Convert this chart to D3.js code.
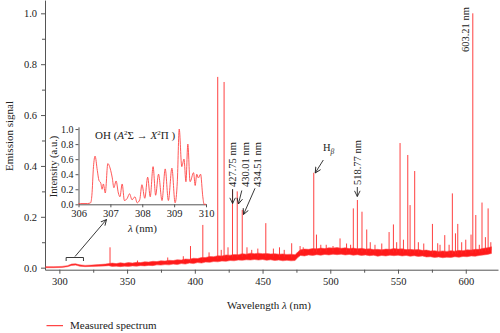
<!DOCTYPE html>
<html><head><meta charset="utf-8">
<script src="https://cdn.jsdelivr.net/npm/d3@7"></script>
<style>
body{margin:0;background:#fff}
svg{display:block}
text{font-family:"Liberation Serif","DejaVu Serif",serif;fill:#222}
</style></head><body>
<svg id="c" width="500" height="333"></svg>
<script>
// ---------- DATA ----------
const xTicks = [300, 350, 400, 450, 500, 550, 600];
const yTicks = [0.0, 0.2, 0.4, 0.6, 0.8, 1.0];
// noisy continuum band: wavelength, lower edge, upper edge
const baseWl = [290,296,302,306,309,312,315,319,324,329,334,336.5,339,342,345,348,351,354,357,360,363,366,369,372,375,378,381,384,387,390,393,396,399,402,405,408,411,414,417,420,423,426,429,432,435,438,441,444,447,450,453,456,459,462,465,468,471,474,476,478,481,484,487,490,493,496,499,502,505,508,511,514,517,520,523,526,529,532,535,538,541,544,547,550,553,556,559,562,565,568,571,574,577,580,583,586,589,592,595,598,601,604,607,610,613,616,619];
const baseLo = [.000,.000,.001,.004,.009,.010,.006,.004,.005,.006,.007,.008,.005,.006,.004,.006,.005,.007,.006,.008,.007,.009,.008,.011,.010,.012,.011,.014,.012,.016,.014,.018,.016,.020,.018,.022,.021,.024,.023,.026,.025,.028,.027,.030,.029,.031,.030,.032,.030,.032,.029,.031,.028,.030,.027,.029,.027,.028,.040,.048,.046,.050,.048,.051,.049,.052,.050,.053,.051,.053,.050,.052,.049,.051,.048,.050,.047,.049,.045,.048,.046,.049,.047,.049,.046,.048,.045,.047,.044,.046,.042,.043,.040,.042,.039,.041,.040,.043,.041,.044,.043,.046,.045,.048,.050,.052,.056];
const baseHi = [.004,.004,.005,.008,.014,.015,.011,.009,.010,.012,.014,.016,.018,.016,.019,.017,.020,.018,.021,.020,.023,.022,.025,.024,.027,.026,.029,.028,.031,.030,.034,.033,.037,.036,.040,.040,.044,.043,.047,.046,.050,.049,.052,.051,.055,.053,.057,.055,.057,.055,.056,.054,.055,.053,.054,.052,.053,.051,.062,.070,.073,.072,.075,.074,.077,.075,.078,.077,.079,.076,.078,.075,.077,.074,.076,.073,.074,.071,.072,.070,.073,.072,.075,.073,.074,.071,.072,.070,.071,.068,.069,.066,.067,.064,.066,.064,.067,.065,.068,.067,.070,.069,.072,.072,.076,.078,.082];
// emission lines: wavelength, peak value, foot value
const peakWl  = [337.4,357.7,380,391.5,396.8,405.9,410.5,416.9,419.5,421.6,424.5,427.8,431.3,435.0,438.5,442,446.5,452.4,458,462.5,466,471.5,477.7,480,487.8,489.8,493,497,502,507.2,512,515,517.0,520.0,523.4,526.9,529.5,533,538,543.4,546.6,549,551.5,554,557.2,558.9,562.3,565,569,575.4,579.3,581,584.5,587.7,590.1,592.4,594.1,597,600,603.9,605.2,607.4,610,612,614.5,616.5,618.5];
const peakTop = [0.080,0.028,0.040,0.045,0.085,0.168,0.060,0.750,0.070,0.730,0.080,0.305,0.300,0.227,0.080,0.070,0.075,0.175,0.075,0.080,0.070,0.096,0.085,0.080,0.373,0.130,0.090,0.090,0.085,0.115,0.095,0.090,0.233,0.266,0.220,0.150,0.100,0.090,0.095,0.140,0.170,0.100,0.490,0.110,0.443,0.246,0.380,0.100,0.095,0.172,0.096,0.090,0.128,0.090,0.292,0.135,0.172,0.100,0.110,0.130,1.000,0.207,0.090,0.256,0.120,0.233,0.100];
const peakFoot= [0.012,0.014,0.018,0.022,0.025,0.030,0.032,0.035,0.036,0.037,0.038,0.040,0.041,0.042,0.043,0.044,0.044,0.043,0.043,0.042,0.041,0.040,0.060,0.060,0.062,0.062,0.063,0.064,0.065,0.065,0.064,0.063,0.063,0.063,0.062,0.061,0.061,0.060,0.059,0.060,0.061,0.061,0.060,0.060,0.060,0.059,0.059,0.058,0.057,0.054,0.053,0.053,0.052,0.053,0.053,0.054,0.054,0.055,0.056,0.057,0.057,0.058,0.060,0.062,0.064,0.065,0.068];
// inset: OH band
const insetWl = [306.00,306.07,306.28,306.38,306.42,306.47,306.52,306.59,306.64,306.70,306.74,306.78,306.84,306.92,307.01,307.06,307.11,307.18,307.25,307.30,307.37,307.44,307.53,307.60,307.68,307.77,307.84,307.92,307.99,308.08,308.17,308.25,308.34,308.42,308.51,308.62,308.72,308.82,308.93,309.03,309.10,309.16,309.24,309.31,309.37,309.43,309.50,309.61,309.66,309.71,309.76,309.83,309.90,309.94,310.00];
const insetI  = [0.01,0.01,0.01,0.02,0.12,0.50,0.64,0.45,0.32,0.28,0.20,0.27,0.15,0.54,0.45,0.35,0.22,0.31,0.15,0.10,0.27,0.05,0.08,0.14,0.06,0.10,0.02,0.06,0.26,0.08,0.36,0.10,0.50,0.12,0.40,0.05,0.47,0.05,0.48,0.02,0.30,1.00,0.50,0.60,0.30,0.80,0.30,0.42,0.25,0.40,0.35,0.40,0.10,0.00,0.00];
const insetXTicks = [306, 307, 308, 309, 310];
const insetYTicks = [0.0, 0.2, 0.4, 0.6, 0.8, 1.0];

// ---------- CHART ----------
const svg = d3.select("#c");
const red = "#ff1a1a";
const axisCol = "#555";

const x = d3.scaleLinear().domain([289.4, 623.8]).range([45, 498]);
const y = d3.scaleLinear().domain([-0.008, 1.052]).range([269.7, 0.1]);

// arrow marker
svg.append("defs").append("marker")
  .attr("id","ah").attr("viewBox","0 0 8 8").attr("refX",7).attr("refY",4)
  .attr("markerWidth",7).attr("markerHeight",7).attr("orient","auto")
  .attr("markerUnits","userSpaceOnUse")
  .append("path").attr("d","M0.5,0.8 L7,4 L0.5,7.2").attr("fill","none").attr("stroke","#222").attr("stroke-width",1);

// axes
function styleAxis(g){
  g.selectAll("path,line").attr("stroke", axisCol).attr("stroke-width",1);
  g.selectAll("text").attr("fill","#222").style("font-family",'"Liberation Serif",serif');
}
const gx = svg.append("g").attr("transform","translate(0,269.7)")
  .call(d3.axisBottom(x).tickValues(xTicks).tickSize(4).tickSizeOuter(0).tickPadding(4).tickFormat(d3.format("d")));
gx.call(styleAxis); gx.selectAll("text").attr("font-size",10.5);
svg.append("g").attr("transform","translate(0,269.7)")
  .call(d3.axisBottom(x).tickValues(d3.range(325, 624, 50)).tickSize(3).tickFormat("")).call(styleAxis)
  .select(".domain").remove();

const gy = svg.append("g").attr("transform","translate(45,0)")
  .call(d3.axisLeft(y).tickValues(yTicks).tickSize(4).tickSizeOuter(0).tickPadding(4).tickFormat(d3.format(".1f")));
gy.call(styleAxis); gy.selectAll("text").attr("font-size",10.5);
svg.append("g").attr("transform","translate(45,0)")
  .call(d3.axisLeft(y).tickValues([0.1,0.3,0.5,0.7,0.9]).tickSize(3).tickFormat("")).call(styleAxis)
  .select(".domain").remove();

// continuum band
const baseData = baseWl.map((w,i)=>({w, lo:baseLo[i], hi:baseHi[i]}));
svg.append("path").datum(baseData)
  .attr("d", d3.area().x(d=>x(d.w)).y0(d=>y(d.lo)).y1(d=>y(d.hi)))
  .attr("fill", red).attr("stroke", "#ff4d4d").attr("stroke-width",0.6);

// emission lines
const peaks = peakWl.map((w,i)=>({w, top:peakTop[i], foot:peakFoot[i]}));
svg.append("g").selectAll("line").data(peaks).join("line")
  .attr("x1", d=>x(d.w)).attr("x2", d=>x(d.w))
  .attr("y1", d=>y(d.foot)).attr("y2", d=>y(d.top))
  .attr("stroke", "#ff2a2a").attr("stroke-width", 0.9);

// axis titles
svg.append("text").attr("x",269).attr("y",309).attr("text-anchor","middle").attr("font-size",11)
  .html('Wavelength <tspan font-style="italic">λ</tspan> (nm)');
svg.append("text").attr("transform","translate(12.5,136) rotate(-90)").attr("text-anchor","middle")
  .attr("font-size",11).text("Emission signal");

// legend
svg.append("line").attr("x1",46.5).attr("x2",63).attr("y1",325.7).attr("y2",325.7).attr("stroke",red).attr("stroke-width",1);
svg.append("text").attr("x",70).attr("y",329).attr("font-size",11).text("Measured spectrum");

// line annotations (vertical labels)
function vlabel(xp, yp, txt){
  svg.append("text").attr("transform",`translate(${xp},${yp}) rotate(-90)`).attr("font-size",10.5).text(txt);
}
vlabel(236, 187, "427.75 nm");
vlabel(249.2, 187, "430.01 nm");
vlabel(260.6, 187, "434.51 nm");
vlabel(360.8, 185, "518.77 nm");
vlabel(468.5, 52, "603.21 nm");

function arrow(x1,y1,x2,y2){
  svg.append("line").attr("x1",x1).attr("y1",y1).attr("x2",x2).attr("y2",y2)
    .attr("stroke","#222").attr("stroke-width",0.9).attr("marker-end","url(#ah)");
}
arrow(232.6,189,232.6,203.5);
arrow(241.8,190.5,238.4,204);
arrow(255,188.3,243.5,214.5);
arrow(357.3,187,357.3,196.5);
arrow(323.3,160,315.2,173);
arrow(75,256.5,106.5,219.5);

// H beta
const hb = svg.append("text").attr("x",323).attr("y",150.5).attr("font-size",10.5);
hb.append("tspan").text("H");
hb.append("tspan").attr("font-size",7.5).attr("font-style","italic").attr("dy",3.5).text("β");

// bracket over OH region
svg.append("path")
  .attr("d", `M${x(305)},261 V257.5 H${x(317.8)} V261`)
  .attr("fill","none").attr("stroke","#222").attr("stroke-width",0.9);

// ---------- INSET ----------
const xi = d3.scaleLinear().domain([306,310]).range([78.5,206]);
const yi = d3.scaleLinear().domain([0,1]).range([204.3,129]);
const gix = svg.append("g").attr("transform","translate(0,204.3)")
  .call(d3.axisBottom(xi).tickValues(insetXTicks).tickSize(3).tickSizeOuter(0).tickPadding(2).tickFormat(d3.format("d")));
gix.call(styleAxis); gix.selectAll("text").attr("font-size",10.5);
const giy = svg.append("g").attr("transform","translate(78.5,0)")
  .call(d3.axisLeft(yi.copy().domain([0,1.03]).range([204.3,126.8])).tickValues(insetYTicks).tickSize(3).tickSizeOuter(0).tickPadding(2).tickFormat(d3.format(".1f")));
giy.call(styleAxis); giy.selectAll("text").attr("font-size",10);

const insetData = insetWl.map((w,i)=>({w, v:insetI[i]}));
svg.append("path").datum(insetData)
  .attr("d", d3.line().x(d=>xi(d.w)).y(d=>yi(d.v)).curve(d3.curveMonotoneX))
  .attr("fill","none").attr("stroke","#ff4545").attr("stroke-width",0.9);

svg.append("text").attr("x",142.5).attr("y",231.5).attr("text-anchor","middle").attr("font-size",11)
  .html('<tspan font-style="italic">λ</tspan> (nm)');
svg.append("text").attr("transform","translate(57,166.5) rotate(-90)").attr("text-anchor","middle")
  .attr("font-size",10.5).text("Intensity (a.u.)");
svg.append("text").attr("x",95).attr("y",138.5).attr("font-size",11)
  .html('OH (<tspan font-style="italic">A</tspan><tspan font-size="7" dy="-4">2</tspan><tspan dy="4">Σ → </tspan><tspan font-style="italic">X</tspan><tspan font-size="7" dy="-4">2</tspan><tspan dy="4">Π )</tspan>');
</script></body></html>
